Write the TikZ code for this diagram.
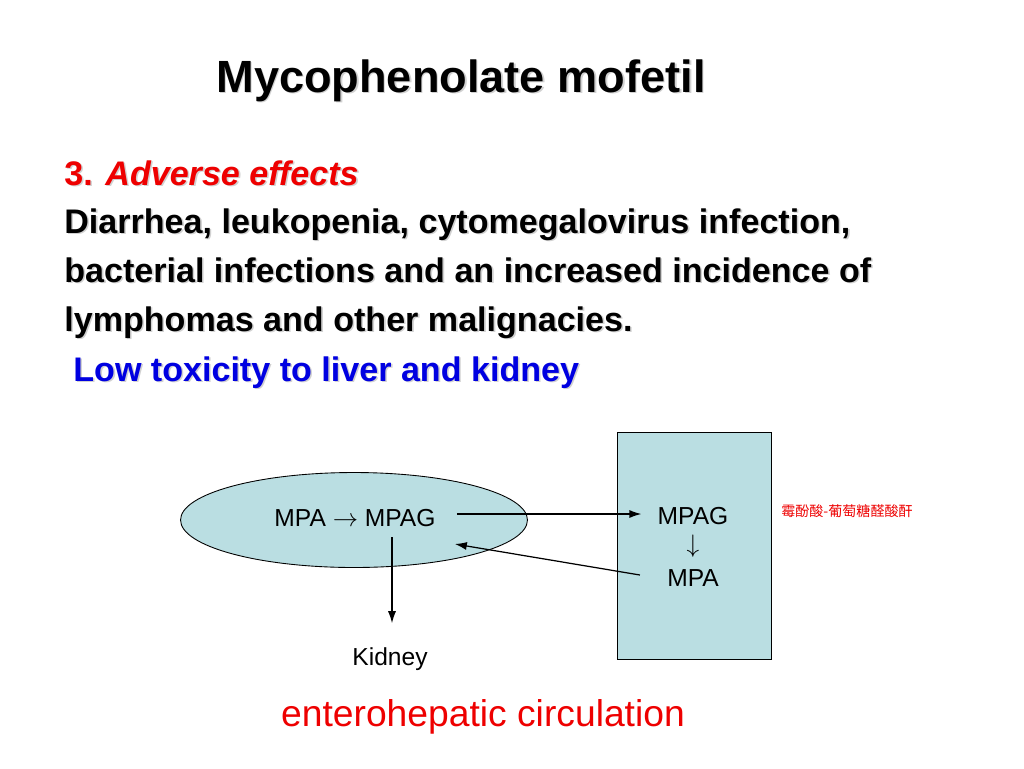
\documentclass[tikz,border=0pt]{standalone}
\usepackage{fontspec}
\setmainfont{Liberation Sans}
\newfontfamily\cjk{Noto Sans CJK SC}
\usetikzlibrary{calc,shapes.geometric,arrows.meta}
\definecolor{slidered}{RGB}{238,0,0}
\definecolor{slideblue}{RGB}{0,0,225}
\definecolor{organfill}{RGB}{186,222,226}
\newcommand\shadowed[1]{\leavevmode\rlap{\kern0.9pt\raisebox{-0.9pt}{\color{black!18}#1}}#1}
\tikzset{
	line/.style={inner sep=0pt, anchor=base west, font=\bfseries\fontsize{19.4}{23}\selectfont},
	lbl/.style={inner sep=0pt, font=\fontsize{14}{16}\selectfont},
	arr/.style={-{Latex[length=6.8pt,width=4.6pt]}, line width=0.7pt}
}

\begin{document}
\begin{tikzpicture}[x=0.02cm, y=-0.02cm]
		%%%%% START %%%%%
		\useasboundingbox[fill=white] (0, 0) rectangle (1024, 768);
		
		% heading and text
		\node[inner sep=0pt, anchor=base, font=\bfseries\fontsize{25.7}{30}\selectfont] (title) at (461, 92) {\shadowed{Mycophenolate mofetil}};
		\node[line, text=slidered] (head) at (64, 185) {\shadowed{3. \textit{Adverse effects}}};
		\node[line] (l1) at (64, 233) {\shadowed{Diarrhea, leukopenia, cytomegalovirus infection,}};
		\node[line] (l2) at (64, 282) {\shadowed{bacterial infections and an increased incidence of}};
		\node[line] (l3) at (64, 331) {\shadowed{lymphomas and other malignacies.}};
		\node[line, text=slideblue] (low) at (73, 381) {\shadowed{Low toxicity to liver and kidney}};
		
		% liver and gut
		\node[ellipse, draw, fill=organfill, line width=0.5pt, minimum width=6.94cm, minimum height=1.9cm] (liver) at (354, 520) {};
		\draw[fill=organfill, line width=0.5pt] (617, 432) rectangle (771, 659);
		
		\node[lbl] (conv) at (355, 518) {MPA $\rightarrow$ MPAG};
		\node[lbl] (mpagB) at (693, 516) {MPAG};
		\node[lbl] (down) at (693, 546) {$\downarrow$};
		\node[lbl] (mpaB) at (693, 578) {MPA};
		\node[lbl] (kidney) at (390, 659) {Kidney};
		\node[inner sep=0pt, text=slidered, font=\cjk\fontsize{8}{9}\selectfont] (cname) at (847, 511) {霉酚酸-葡萄糖醛酸酐};
		
		% connectors
		\draw[arr] ($(conv.east)+(21,-4)$) -- ($(mpagB.west)+(-16,-2)$);
		\draw[arr] ($(mpaB.west)+(-27,-3)$) -- ($(conv.east)+(19,26)$);
		\draw[arr] ($(conv.south)+(37,10)$) -- ($(kidney.north)+(2,-24)$);
		
		\node[inner sep=0pt, text=slidered, font=\fontsize{21.2}{25}\selectfont] (ehc) at (483, 717) {enterohepatic circulation};
		%%%%% END %%%%%
\end{tikzpicture}
\end{document}
